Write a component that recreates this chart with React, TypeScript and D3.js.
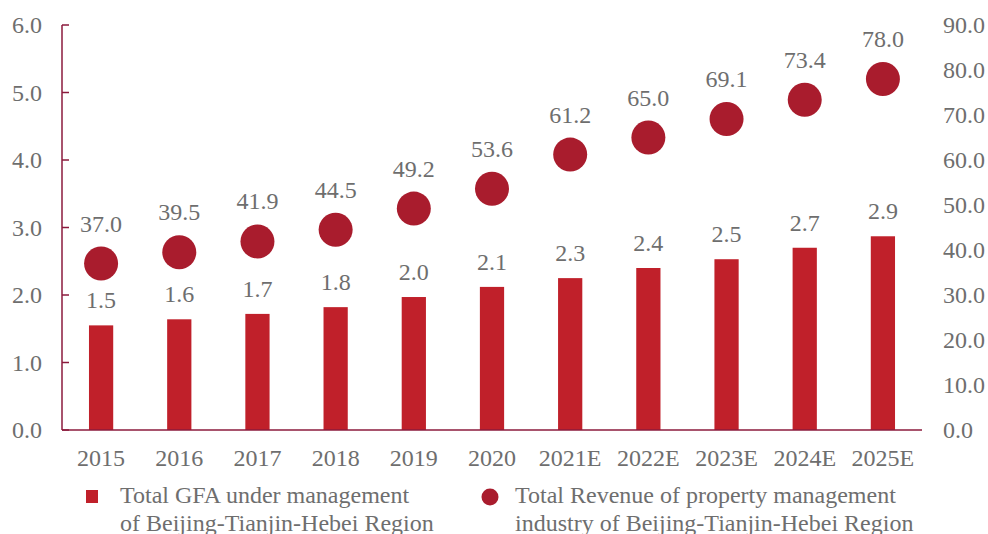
import React from "react";
import * as d3 from "d3";

const categories = ["2015","2016","2017","2018","2019","2020","2021E","2022E","2023E","2024E","2025E"];
const gfaValues = [1.55,1.64,1.72,1.82,1.97,2.12,2.25,2.40,2.53,2.70,2.87];
const gfaLabels = ["1.5","1.6","1.7","1.8","2.0","2.1","2.3","2.4","2.5","2.7","2.9"];
const revenueValues = [37.0,39.5,41.9,44.5,49.2,53.6,61.2,65.0,69.1,73.4,78.0];
const leftTicks = [0,1,2,3,4,5,6];
const rightTicks = [0,10,20,30,40,50,60,70,80,90];
const legendGfa = ["Total GFA under management", "of Beijing-Tianjin-Hebei Region"];
const legendRev = ["Total Revenue of property management", "industry of Beijing-Tianjin-Hebei Region"];

const W = 988, H = 534;
const left = 62, right = 922, top = 25, bottom = 430;
const barColor = "#C0202A";
const dotColor = "#A91C2D";
const axisColor = "#8B1A3C";
const textColor = "#6e6e6e";
const font = "'Liberation Serif', 'Times New Roman', serif";
const fs = 24;

export default function App() {
  const x = d3.scaleBand().domain(categories).range([left, right]).paddingInner(0.69).paddingOuter(0.345);
  const yL = d3.scaleLinear().domain([0, 6]).range([bottom, top]);
  const yR = d3.scaleLinear().domain([0, 90]).range([bottom, top]);
  const bw = x.bandwidth();
  const cx = (c: string) => (x(c) as number) + bw / 2;
  return (
    <svg width={W} height={H} style={{ position: "absolute", left: 0, top: 0, background: "#fff" }} fontFamily={font}>
      {categories.map((c, i) => (
        <g key={c}>
          <rect x={x(c)} y={yL(gfaValues[i])} width={bw} height={bottom - yL(gfaValues[i])} fill={barColor} />
          <text x={cx(c)} y={yL(gfaValues[i]) - 17} textAnchor="middle" fontSize={fs} fill={textColor}>{gfaLabels[i]}</text>
          <circle cx={cx(c)} cy={yR(revenueValues[i])} r={17} fill={dotColor} />
          <text x={cx(c)} y={yR(revenueValues[i]) - 32} textAnchor="middle" fontSize={fs} fill={textColor}>{revenueValues[i].toFixed(1)}</text>
          <text x={cx(c)} y={466} textAnchor="middle" fontSize={fs} fill={textColor}>{c}</text>
        </g>
      ))}
      <line x1={left} x2={left} y1={top} y2={bottom} stroke={axisColor} strokeWidth={1.5} />
      <line x1={left} x2={right} y1={bottom} y2={bottom} stroke={axisColor} strokeWidth={1.5} />
      {leftTicks.map(t => (
        <g key={t}>
          <line x1={left} x2={left + 7} y1={yL(t)} y2={yL(t)} stroke={axisColor} strokeWidth={1.5} />
          <text x={42} y={yL(t) + 8} textAnchor="end" fontSize={fs} fill={textColor}>{t.toFixed(1)}</text>
        </g>
      ))}
      {rightTicks.map(t => (
        <text key={t} x={943} y={yR(t) + 8} textAnchor="start" fontSize={fs} fill={textColor}>{t.toFixed(1)}</text>
      ))}
      <rect x={86} y={490} width={12} height={13} fill={barColor} />
      {legendGfa.map((s, i) => (
        <text key={s} x={120} y={503 + i * 28} fontSize={fs} fill={textColor}>{s}</text>
      ))}
      <circle cx={490} cy={497} r={8.5} fill={dotColor} />
      {legendRev.map((s, i) => (
        <text key={s} x={515} y={503 + i * 28} fontSize={fs} fill={textColor}>{s}</text>
      ))}
    </svg>
  );
}
